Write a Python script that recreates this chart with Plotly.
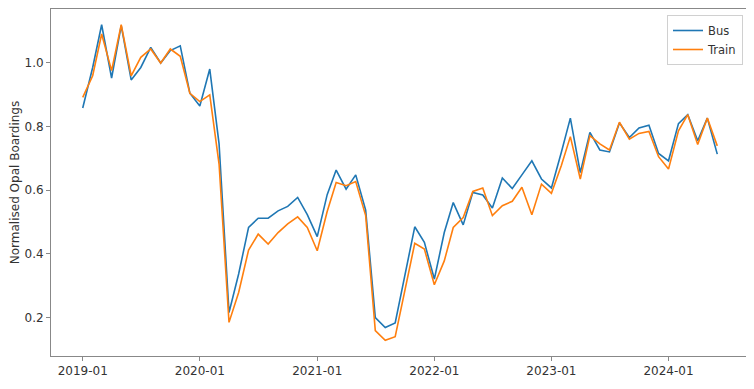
import pandas as pd
import plotly.graph_objects as go

months = pd.date_range("2019-01-01", periods=66, freq="MS")

bus = [0.858, 0.985, 1.119, 0.952, 1.116, 0.946, 0.985, 1.048, 0.999, 1.038,
       1.053, 0.904, 0.864, 0.980, 0.745, 0.216, 0.337, 0.483, 0.512, 0.512,
       0.535, 0.549, 0.577, 0.523, 0.454, 0.586, 0.663, 0.603, 0.648, 0.537,
       0.200, 0.169, 0.183, 0.331, 0.485, 0.436, 0.321, 0.467, 0.561, 0.491,
       0.593, 0.585, 0.544, 0.638, 0.605, 0.648, 0.692, 0.635, 0.607, 0.719,
       0.826, 0.655, 0.781, 0.726, 0.720, 0.811, 0.765, 0.795, 0.804, 0.715,
       0.692, 0.809, 0.837, 0.755, 0.826, 0.713]

train = [0.891, 0.959, 1.090, 0.975, 1.119, 0.959, 1.017, 1.043, 0.999, 1.043,
         1.020, 0.904, 0.878, 0.899, 0.682, 0.185, 0.279, 0.412, 0.462, 0.431,
         0.467, 0.494, 0.516, 0.483, 0.410, 0.533, 0.624, 0.614, 0.627, 0.520,
         0.159, 0.129, 0.140, 0.284, 0.433, 0.415, 0.303, 0.378, 0.483, 0.514,
         0.596, 0.607, 0.520, 0.551, 0.565, 0.609, 0.523, 0.619, 0.590, 0.677,
         0.768, 0.635, 0.771, 0.745, 0.726, 0.813, 0.760, 0.778, 0.784, 0.705,
         0.666, 0.786, 0.837, 0.743, 0.826, 0.739]

x_ticks = pd.date_range("2019-01-01", "2024-01-01", freq="YS")
x_tick_labels = [d.strftime("%Y-%m") for d in x_ticks]
y_ticks = [0.2, 0.4, 0.6, 0.8, 1.0]
y_tick_labels = ["0.2", "0.4", "0.6", "0.8", "1.0"]

# matplotlib-style 5% margins
span = months[-1] - months[0]
x_range = [months[0] - span * 0.05, months[-1] + span * 0.05]
ymin = min(min(bus), min(train))
ymax = max(max(bus), max(train))
yr = ymax - ymin
y_range = [ymin - 0.05 * yr, ymax + 0.05 * yr]

fig = go.Figure()
fig.add_trace(go.Scatter(x=months, y=bus, mode="lines", name="Bus",
                         line=dict(color="#1f77b4", width=1.6)))
fig.add_trace(go.Scatter(x=months, y=train, mode="lines", name="Train",
                         line=dict(color="#ff7f0e", width=1.6)))

axis_common = dict(showline=True, linecolor="#888888", linewidth=1, mirror=True,
                   showgrid=False, zeroline=False, ticks="outside", ticklen=4,
                   tickcolor="#888888",
                   tickfont=dict(family="DejaVu Sans", size=12, color="#333333"))

fig.update_xaxes(range=x_range, tickvals=x_ticks, ticktext=x_tick_labels,
                 automargin=False, **axis_common)
fig.update_yaxes(range=y_range, tickvals=y_ticks, ticktext=y_tick_labels,
                 automargin=True,
                 title=dict(text="Normalised Opal Boardings", standoff=9,
                            font=dict(family="DejaVu Sans", size=12, color="#333333")),
                 **axis_common)

# the page body adds an 8px margin, so the figure is sized to fit the window
fig.update_layout(
    width=746, height=381,
    margin=dict(l=43, r=5, t=1, b=33, autoexpand=False),
    paper_bgcolor="white", plot_bgcolor="white",
    showlegend=True,
    legend=dict(x=1 - 6 / 698, y=1 - 6 / 347, xanchor="right", yanchor="top",
                bgcolor="white", bordercolor="#d0d0d0", borderwidth=1,
                font=dict(family="DejaVu Sans", size=11.5, color="#333333"),
                itemwidth=30, tracegroupgap=0),
    font=dict(family="DejaVu Sans"),
)

fig.write_html("out.html")
